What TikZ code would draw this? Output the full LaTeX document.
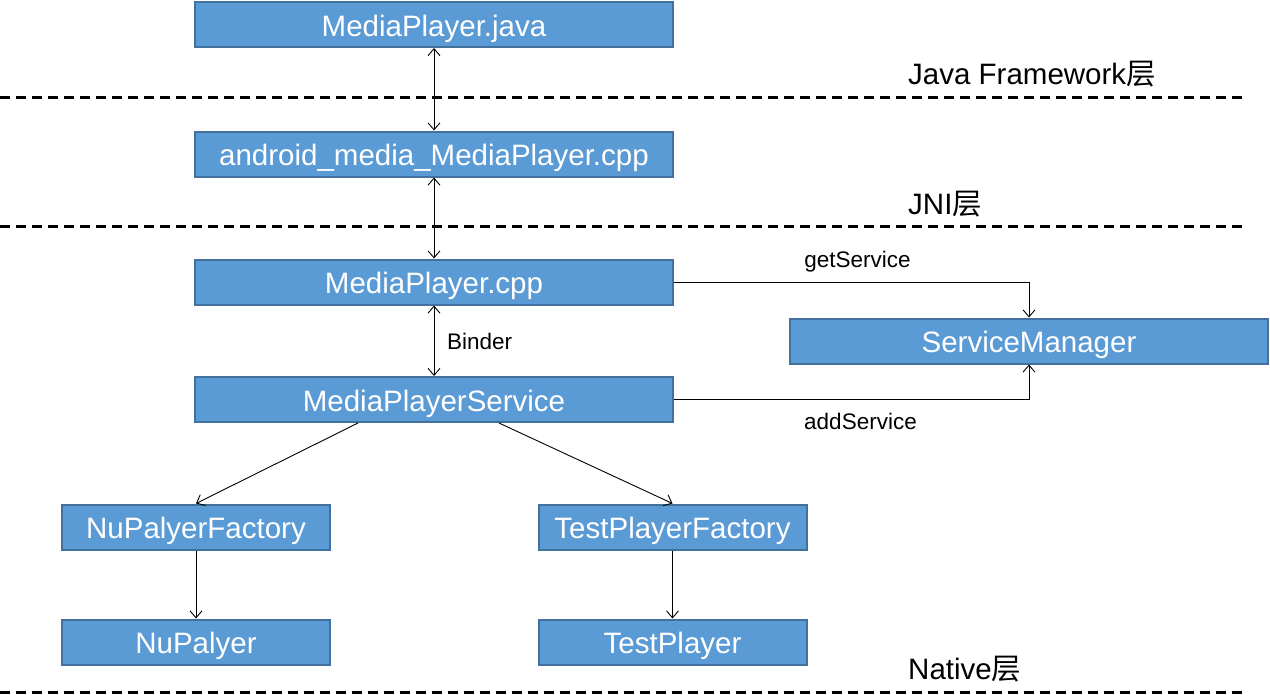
\documentclass[tikz,border=0pt]{standalone}
\usepackage{fontspec}
\setmainfont{Liberation Sans}
\newfontfamily\cjk{Noto Sans CJK SC}
\usetikzlibrary{arrows.meta}

\definecolor{boxfill}{HTML}{5B9BD5}
\definecolor{boxline}{HTML}{41719C}

\begin{document}
\begin{tikzpicture}[x=1pt,y=-1pt,
    layerbox/.style={draw=boxline,line width=2pt,fill=boxfill,text=white,
        inner sep=0pt,minimum height=45pt,text height=24pt,text depth=1pt,
        font=\fontsize{29.5}{34}\selectfont},
    widebox/.style={layerbox,minimum width=478pt},
    smallbox/.style={layerbox,minimum width=268pt},
    layerline/.style={line width=3pt,dash pattern=on 10pt off 6pt},
    layername/.style={anchor=west,inner sep=0pt,font=\fontsize{29.5}{34}\selectfont},
    linkname/.style={inner sep=0pt,font=\fontsize{22.5}{26}\selectfont},
    link/.style={line width=0.9pt,-{Straight Barb[length=7pt,width=12pt]}},
    dlink/.style={line width=0.9pt,{Straight Barb[length=7pt,width=12pt]}-{Straight Barb[length=7pt,width=12pt]}}]
    \useasboundingbox (0,0) rectangle (1270,696);

    % layers
    \draw [layerline] (0,97) -- (1248,97);
    \draw [layerline] (0,226) -- (1248,226);
    \draw [layerline] (0,692) -- (1248,692);
    \node [layername] (javalayer) at (908,74) {Java Framework{\cjk 层}};
    \node [layername] (jnilayer) at (908,204) {JNI{\cjk 层}};
    \node [layername] (nativelayer) at (908,669) {Native{\cjk 层}};

    % boxes
    \node [widebox] (java) at (434,24.5) {MediaPlayer.java};
    \node [widebox] (jni) at (434,154) {android\_media\_MediaPlayer.cpp};
    \node [widebox] (mpcpp) at (434,282) {MediaPlayer.cpp};
    \node [widebox] (mpsvc) at (434,399.5) {MediaPlayerService};
    \node [widebox] (svcmgr) at (1029,341) {ServiceManager};
    \node [smallbox] (nufactory) at (196,527) {NuPalyerFactory};
    \node [smallbox] (testfactory) at (672.5,527) {TestPlayerFactory};
    \node [smallbox] (nuplayer) at (196,642) {NuPalyer};
    \node [smallbox] (testplayer) at (672.5,642) {TestPlayer};

    % links
    \draw [dlink] (java) -- (jni);
    \draw [dlink] (jni) -- (mpcpp);
    \draw [dlink] (mpcpp) -- (mpsvc);
    \node [linkname,anchor=west] (binder) at (447,341) {Binder};

    \draw [link] (mpcpp.east) -| (svcmgr.north);
    \node [linkname] (getsvc) at (857.5,262) {getService};
    \draw [link] (mpsvc.east) -| (svcmgr.south);
    \node [linkname] (addsvc) at (860.5,421) {addService};

    \draw [link] ([xshift=-76pt]mpsvc.south) -- (nufactory.north);
    \draw [link] ([xshift=65pt]mpsvc.south) -- (testfactory.north);
    \draw [link] (nufactory) -- (nuplayer);
    \draw [link] (testfactory) -- (testplayer);
\end{tikzpicture}
\end{document}
